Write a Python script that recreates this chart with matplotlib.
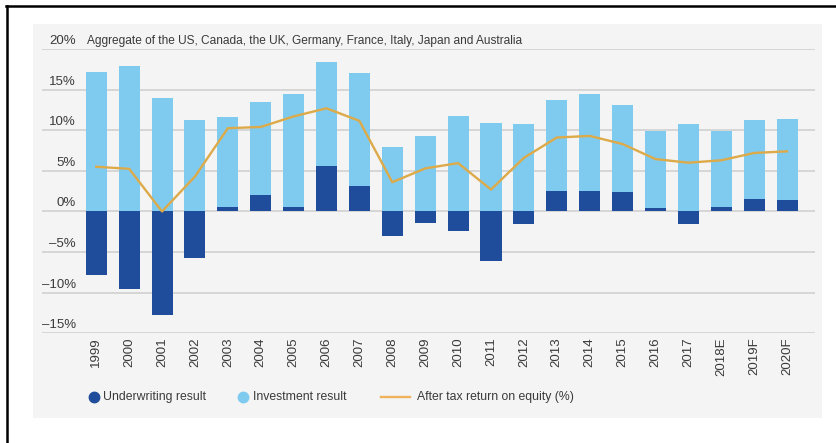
import numpy as np
import matplotlib
matplotlib.use('Agg')
import matplotlib.pyplot as plt
from matplotlib.patches import Rectangle
from matplotlib.lines import Line2D
from matplotlib.transforms import offset_copy

years = ['1999', '2000', '2001', '2002', '2003', '2004', '2005', '2006', '2007', '2008',
         '2009', '2010', '2011', '2012', '2013', '2014', '2015', '2016', '2017',
         '2018E', '2019F', '2020F']
underwriting = [-7.8, -9.6, -12.8, -5.75, 0.5, 2.05, 0.6, 5.55, 3.15, -3.0,
                -1.4, -2.4, -6.15, -1.55, 2.55, 2.55, 2.45, 0.4, -1.5,
                0.6, 1.55, 1.4]
investment = [17.2, 17.9, 14.0, 11.2, 11.15, 11.4, 13.8, 12.85, 13.95, 7.9,
              9.35, 11.7, 10.9, 10.75, 11.2, 11.95, 10.6, 9.55, 10.75,
              9.35, 9.75, 9.95]
roe = [5.5, 5.25, 0.0, 4.3, 10.25, 10.4, 11.7, 12.7, 11.15, 3.6,
       5.3, 5.95, 2.7, 6.6, 9.1, 9.3, 8.3, 6.45, 6.0,
       6.3, 7.2, 7.4]
yticks = [20, 15, 10, 5, 0, -5, -10, -15]
ylabels = ['20%', '15%', '10%', '5%', '0%', '–5%', '–10%', '–15%']

dark = '#1f4c9b'
light = '#7fcbf0'
gold = '#ddaa4a'
txt = '#3a3a3a'

plt.rcParams['font.family'] = ['Liberation Sans', 'DejaVu Sans']

W, H = 836, 443
fig = plt.figure(figsize=(W / 100, H / 100), dpi=100)

# grey panel and the cropped black frame
fig.patches.append(Rectangle((33 / W, 1 - 418 / H), (822 - 33) / W, (418 - 24) / H,
                             transform=fig.transFigure, facecolor='#f4f4f4',
                             edgecolor='none', zorder=-2))
fig.add_artist(Line2D([6 / W, 1], [1 - 6 / H, 1 - 6 / H], color='black', lw=1.8))
fig.add_artist(Line2D([6.5 / W, 6.5 / W], [0, 1 - 6 / H], color='black', lw=1.8))

ax = fig.add_axes([42 / W, 1 - 333.3 / H, (815 - 42) / W, (333.3 - 49) / H])
ax.set_facecolor('none')

x = np.arange(len(years))
uw = np.array(underwriting)
ax.bar(x, uw, width=0.64, color=dark, zorder=2)
ax.bar(x, investment, width=0.64, bottom=np.maximum(uw, 0), color=light, zorder=2)
ax.plot(x, roe, color=gold, lw=1.7, zorder=3)

ax.set_xlim(-1.65, 21.85)
ax.set_ylim(-15, 20)
for v in yticks:
    ax.axhline(v, color='#d6d6d6', lw=1.4, zorder=1)
for s in ax.spines.values():
    s.set_visible(False)

ax.set_yticks([])
ax.set_xticks(x)
ax.set_xticklabels(years, rotation=90, fontsize=9.5, color=txt)
ax.tick_params(axis='x', length=0, pad=3)

lab_tr = offset_copy(ax.get_yaxis_transform(), fig=fig, y=5, units='dots')
for v, l in zip(yticks, ylabels):
    ax.text(0.044, v, l, transform=lab_tr, ha='right', va='baseline',
            fontsize=9.5, color=txt)
ax.text(0.058, 20, 'Aggregate of the US, Canada, the UK, Germany, France, Italy, Japan and Australia',
        transform=lab_tr, ha='left', va='baseline', fontsize=8.6, color=txt)

# legend
ly = 1 - 397 / H
fs = 8.8
fig.add_artist(Line2D([94 / W], [ly], marker='o', ms=7.5, color=dark, lw=0))
fig.text(103 / W, ly, 'Underwriting result', va='center', ha='left', fontsize=fs, color=txt)
fig.add_artist(Line2D([243 / W], [ly], marker='o', ms=7.5, color=light, lw=0))
fig.text(253 / W, ly, 'Investment result', va='center', ha='left', fontsize=fs, color=txt)
fig.add_artist(Line2D([381 / W, 410 / W], [ly, ly], color='#f0b35c', lw=1.7))
fig.text(417 / W, ly, 'After tax return on equity (%)', va='center', ha='left', fontsize=fs, color=txt)

plt.savefig('out.png', dpi=100)
